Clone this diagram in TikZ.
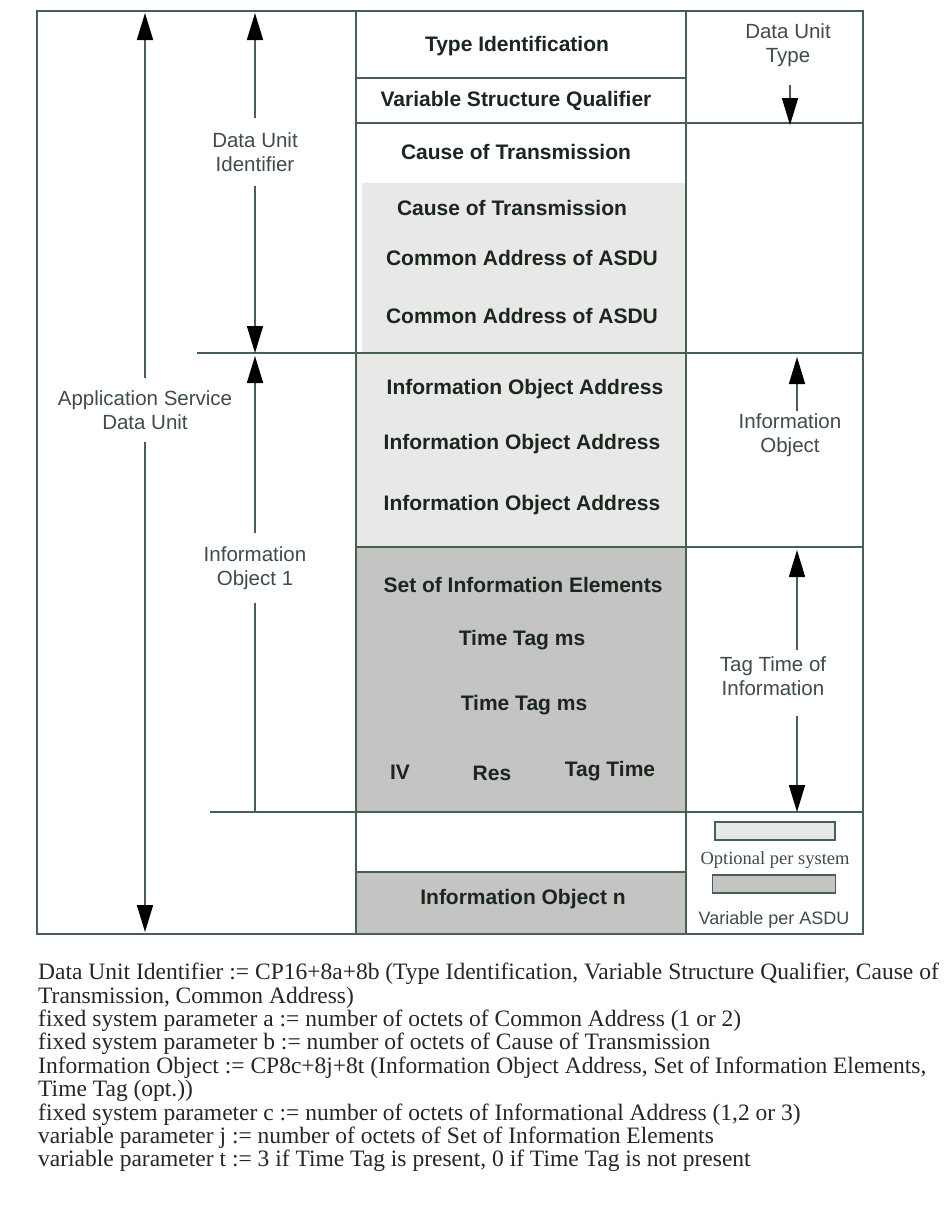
\documentclass[tikz,border=0pt]{standalone}
\usepackage{fontspec}
\setmainfont{Liberation Serif}
\newfontfamily\diagfont{Liberation Sans}
\usepackage{xcolor}
\usetikzlibrary{arrows.meta,positioning,calc}

\definecolor{lnc}{RGB}{72,96,80}
\definecolor{txc}{RGB}{26,38,30}
\definecolor{lbc}{RGB}{62,78,68}
\definecolor{optfill}{RGB}{232,232,230}
\definecolor{varfill}{RGB}{196,196,195}

\begin{document}
\begin{tikzpicture}[x=1pt, y=-1pt,
    every node/.style={text=txc},
    frame/.style={draw=lnc, line width=1.6pt},
    field/.style={font=\diagfont\bfseries\fontsize{21}{24}\selectfont, text height=15pt, text depth=0pt, inner sep=0pt},
    span/.style={font=\diagfont\fontsize{20.5}{24}\selectfont, text=lbc, align=center, inner xsep=2pt},
    arr/.style={draw=lnc, line width=1.6pt, -{Triangle[length=27pt, width=16pt, color=black]}},
    legbox/.style={draw=lnc, line width=1.2pt, minimum width=120pt, minimum height=18pt, inner sep=0pt}]

    \useasboundingbox (0,0) rectangle (948,1205);
    \fill[white] (0,0) rectangle (948,1205);

    % Shaded fields
    \fill[optfill] (362,183) rectangle (686,353);
    \fill[optfill] (356,353) rectangle (686,547);
    \fill[varfill] (356,547) rectangle (686,812);
    \fill[varfill] (356,872) rectangle (686,934);

    % Frame and rules
    \draw[frame] (37,11) rectangle (863,934);
    \draw[frame] (356,11) -- (356,934);
    \draw[frame] (686,11) -- (686,934);
    \draw[frame] (356,78) -- (686,78);
    \draw[frame] (356,123) -- (863,123);
    \draw[frame] (197,353) -- (863,353);
    \draw[frame] (356,547) -- (863,547);
    \draw[frame] (210,812) -- (863,812);
    \draw[frame] (356,872) -- (686,872);

    % Data unit identifier fields
    \node[field] (typeid) at (517,44) {Type Identification};
    \node[field] (vsq) at (516,99) {Variable Structure Qualifier};
    \node[field] (cot1) at (516,152) {Cause of Transmission};
    \node[field] (cot2) at (512,208) {Cause of Transmission};
    \node[field] (caa1) at (522,258) {Common Address of ASDU};
    \node[field] (caa2) at (522,316) {Common Address of ASDU};

    % Information object 1 fields
    \node[field] (ioa1) at (525,387) {Information Object Address};
    \node[field] (ioa2) at (522,442) {Information Object Address};
    \node[field] (ioa3) at (522,503) {Information Object Address};
    \node[field] (sie) at (523,585) {Set of Information Elements};
    \node[field] (ttms1) at (522,638) {Time Tag ms};
    \node[field] (ttms2) at (524,703) {Time Tag ms};
    \node[field] (iv) at (400,772) {IV};
    \node[field] (res) at (492,773) {Res};
    \node[field] (tagtm) at (610,769) {Tag Time};
    \node[field] (ion) at (523,897) {Information Object n};

    % Left spans
    \node[span, inner ysep=12pt] (asdu) at (145,410) {Application Service\\Data Unit};
    \coordinate (asdutop) at (145,13);
    \coordinate (asdubot) at (145,932);
    \draw[arr] (asdu) -- (asdutop);
    \draw[arr] (asdu) -- (asdubot);

    \node[span, inner ysep=14pt] (dui) at (255,152) {Data Unit\\Identifier};
    \coordinate (duitop) at (255,13);
    \coordinate (duibot) at (255,353);
    \draw[arr] (dui) -- (duitop);
    \draw[arr] (dui) -- (duibot);

    \node[span, inner ysep=13pt] (io1) at (255,568) {Information\\Object 1};
    \coordinate (io1top) at (255,356);
    \coordinate (io1bot) at (255,812);
    \draw[arr] (io1) -- (io1top);
    \draw[frame] (io1) -- (io1bot);

    % Right spans
    \node[span] (dutype) at (788,45) {Data Unit\\Type};
    \coordinate (dutip) at (790,125);
    \draw[arr, shorten <=15pt] (dutype.south -| dutip) -- (dutip);

    \node[span, inner ysep=2pt] (iobj) at (790,435) {Information\\Object};
    \coordinate (iobjtip) at (797,357);
    \draw[arr] (iobj.north -| iobjtip) -- (iobjtip);

    \node[span, inner ysep=6pt] (ttinfo) at (773,676) {Tag Time of\\Information};
    \coordinate (tttop) at (797,550);
    \coordinate (ttbot) at (797,812);
    \draw[arr] (ttinfo.north -| tttop) -- (tttop);
    \draw[arr, shorten <=14pt] (ttinfo.south -| ttbot) -- (ttbot);

    % Legend
    \node[legbox, fill=optfill] (optbox) at (775,831) {};
    \node[font=\fontsize{18.5}{20}\selectfont, text=lbc, below=8pt of optbox] (optlbl) {Optional per system};
    \node[legbox, fill=varfill, minimum width=123pt] (varbox) at (774,884) {};
    \node[font=\diagfont\fontsize{18}{20}\selectfont, text=lbc, below=14pt of varbox] (varlbl) {Variable per ASDU};

    % Notes below
    \node[anchor=north west, align=left, inner sep=0pt, font=\fontsize{23.5}{23.4}\selectfont, text=black!85] (notes) at (38,963) {%
      Data Unit Identifier := CP16+8a+8b (Type Identification, Variable Structure Qualifier, Cause of\\
      Transmission, Common Address)\\
      fixed system parameter a := number of octets of Common Address (1 or 2)\\
      fixed system parameter b := number of octets of Cause of Transmission\\
      Information Object := CP8c+8j+8t (Information Object Address, Set of Information Elements,\\
      Time Tag (opt.))\\
      fixed system parameter c := number of octets of Informational Address (1,2 or 3)\\
      variable parameter j := number of octets of Set of Information Elements\\
      variable parameter t := 3 if Time Tag is present, 0 if Time Tag is not present};
\end{tikzpicture}
\end{document}
